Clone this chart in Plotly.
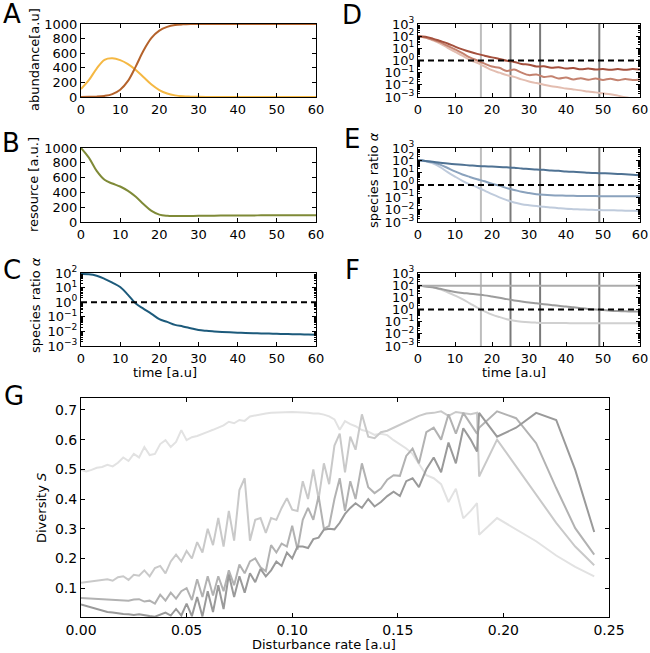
import plotly.graph_objects as go

W, H = 650, 653
FONT = "DejaVu Sans"

# ---- time courses (panels A-F) ----
t = [0, 2, 4, 6, 8, 10, 12, 14, 16, 18, 20, 22, 24, 26, 28, 30,
     32, 34, 36, 38, 40, 42, 44, 46, 48, 50, 52, 54, 56, 58, 60]

a_species1 = [110, 230, 390, 510, 530, 505, 450, 370, 270, 170, 95, 48, 22, 10, 5, 2,
              1, 1, 0, 0, 0, 0, 0, 0, 0, 0, 0, 0, 0, 0, 0]
a_species2 = [0, 2, 5, 15, 40, 100, 220, 420, 640, 810, 910, 960, 985, 995, 999, 1000,
              1000, 1000, 1000, 1000, 1000, 1000, 1000, 1000, 1000, 1000, 1000, 1000, 1000, 1000, 1000]

b_resource = [1000, 870, 690, 570, 520, 480, 420, 340, 240, 150, 100, 84, 80, 80, 82, 84,
              85, 86, 87, 88, 88, 89, 89, 90, 90, 90, 90, 90, 90, 90, 90]

c_ratio = [85, 82, 65, 40, 22, 11, 3.2, 0.8, 0.35, 0.16, 0.069, 0.045, 0.028, 0.022, 0.0166, 0.0126,
           0.011, 0.0100, 0.0092, 0.0086, 0.0082, 0.0078, 0.0075, 0.0073, 0.0071, 0.0068,
           0.0066, 0.0064, 0.0063, 0.0061, 0.0060]

d_dark = [100, 89, 63, 40, 25, 14, 8.3, 5.2, 3.5, 2.5, 1.8, 1.35, 0.95, 0.76, 0.52, 0.45,
          0.32, 0.33, 0.25, 0.28, 0.22, 0.24, 0.19, 0.22, 0.18, 0.20, 0.17, 0.20, 0.17, 0.20, 0.18]
d_mid = [100, 79, 52, 32, 16, 8.1, 4.0, 1.8, 1.0, 0.56, 0.32, 0.25, 0.14, 0.18, 0.1, 0.063,
         0.071, 0.045, 0.05, 0.033, 0.04, 0.028, 0.035, 0.026, 0.033, 0.025, 0.032, 0.024, 0.03, 0.025, 0.028]
d_light = [100, 76, 45, 25, 11, 5.2, 2.5, 1.1, 0.63, 0.32, 0.16, 0.1, 0.063, 0.045, 0.028, 0.019,
           0.014, 0.01, 0.0076, 0.0063, 0.005, 0.0042, 0.0035, 0.0028, 0.0024, 0.002, 0.0017,
           0.0013, 0.00095, 0.00076, 0.00063]

e_dark = [100, 89, 76, 63, 55, 48, 43, 39, 35, 33, 31, 29, 27, 25, 22, 20,
          18, 17, 15, 14, 12.6, 11.7, 11, 10, 9.3, 8.9, 8.5, 7.9, 7.4, 6.9, 6.3]
e_mid = [100, 89, 71, 45, 24, 12.6, 7.1, 4.5, 2.95, 2.0, 1.26, 0.89, 0.56, 0.4, 0.28, 0.22,
         0.18, 0.16, 0.148, 0.141, 0.135, 0.132, 0.129, 0.126, 0.126, 0.124, 0.123, 0.123, 0.122, 0.122, 0.122]
e_light = [100, 83, 56, 28, 11, 4.8, 2.2, 1.12, 0.66, 0.35, 0.18, 0.1, 0.06, 0.038, 0.028, 0.023,
           0.0195, 0.0174, 0.0151, 0.0132, 0.0117, 0.011, 0.0105, 0.01, 0.0095, 0.0091, 0.0089,
           0.0087, 0.0083, 0.0081, 0.0079]

f_flat = [89, 89, 89, 89, 89, 89, 89, 89, 89, 89, 89, 89, 89, 89, 89, 89,
          89, 89, 89, 89, 89, 89, 89, 89, 89, 89, 89, 89, 89, 89, 89]
f_mid = [89, 79, 66, 50, 37, 28, 23, 20, 17, 14.5, 11.7, 9.3, 7.1, 5.6, 4.5, 3.7,
         3.2, 2.75, 2.35, 2.0, 1.78, 1.51, 1.29, 1.12, 1.0, 0.89, 0.79, 0.74, 0.71, 0.69, 0.68]
f_light = [89, 83, 66, 45, 26, 14, 7.1, 3.2, 1.41, 0.71, 0.38, 0.24, 0.16, 0.12, 0.1, 0.089,
           0.083, 0.079, 0.078, 0.076, 0.076, 0.075, 0.075, 0.074, 0.074, 0.074, 0.074,
           0.074, 0.074, 0.074, 0.074]

disturb_times = [17, 25, 33, 49]
disturb_colors = ["#bdbdbd", "#7a7a7a", "#7a7a7a", "#7a7a7a"]
threshold = 1.0

# ---- diversity vs disturbance rate (panel G) ----
g_rate = [0.0, 0.0025, 0.005, 0.0075, 0.01, 0.0125, 0.015, 0.0175, 0.02, 0.0225,
          0.025, 0.0275, 0.03, 0.0325, 0.035, 0.0375, 0.04, 0.0425, 0.045, 0.0475,
          0.05, 0.0525, 0.055, 0.0575, 0.06, 0.0625, 0.065, 0.0675, 0.07, 0.0725,
          0.075, 0.0775, 0.08, 0.0825, 0.085, 0.0875, 0.09, 0.0925, 0.095, 0.0975,
          0.1, 0.1025, 0.105, 0.1075, 0.11, 0.1125, 0.115, 0.1175, 0.12, 0.1225,
          0.125, 0.1275, 0.13, 0.133, 0.136, 0.139, 0.142, 0.145, 0.148, 0.151,
          0.154, 0.157, 0.16, 0.1635, 0.167, 0.1705, 0.174, 0.1775, 0.181, 0.1845,
          0.1875, 0.1885, 0.197, 0.206, 0.2155, 0.225, 0.234, 0.243]

g_s1 = [0.498, 0.493, 0.498, 0.505, 0.508, 0.515, 0.510, 0.522, 0.540, 0.528,
        0.552, 0.540, 0.575, 0.548, 0.552, 0.585, 0.598, 0.575, 0.592, 0.632,
        0.598, 0.608, 0.612, 0.620, 0.626, 0.633, 0.640, 0.648, 0.660, 0.655,
        0.666, 0.663, 0.678, 0.682, 0.685, 0.688, 0.690, 0.691, 0.692, 0.692,
        0.693, 0.692, 0.692, 0.690, 0.688, 0.688, 0.684, 0.678, 0.668, 0.633,
        0.662, 0.652, 0.645, 0.632, 0.627, 0.616, 0.620, 0.615, 0.598, 0.585,
        0.570, 0.552, 0.520, 0.480, 0.470, 0.450, 0.390, 0.435, 0.335, 0.360,
        0.386, 0.280, 0.336, 0.298, 0.258, 0.210, 0.172, 0.140]
g_s2 = [0.118, 0.120, 0.122, 0.125, 0.128, 0.130, 0.125, 0.137, 0.140, 0.128,
        0.145, 0.142, 0.160, 0.140, 0.168, 0.175, 0.150, 0.190, 0.213, 0.190,
        0.225, 0.200, 0.255, 0.220, 0.300, 0.245, 0.336, 0.240, 0.360, 0.260,
        0.430, 0.470, 0.260, 0.330, 0.336, 0.286, 0.336, 0.330, 0.370, 0.403,
        0.364, 0.360, 0.460, 0.400, 0.500, 0.400, 0.520, 0.450, 0.580, 0.620,
        0.490, 0.610, 0.566, 0.685, 0.610, 0.605, 0.625, 0.630, 0.640, 0.650,
        0.662, 0.670, 0.680, 0.688, 0.690, 0.695, 0.680, 0.693, 0.690, 0.685,
        0.690, 0.476, 0.600, 0.510, 0.414, 0.320, 0.240, 0.177]
g_s3 = [0.067, 0.066, 0.065, 0.064, 0.062, 0.062, 0.061, 0.060, 0.060, 0.058,
        0.062, 0.063, 0.055, 0.058, 0.048, 0.078, 0.058, 0.085, 0.065, 0.090,
        0.100, 0.060, 0.130, 0.070, 0.140, 0.075, 0.140, 0.090, 0.160, 0.110,
        0.180, 0.150, 0.190, 0.200, 0.170, 0.157, 0.245, 0.220, 0.250, 0.240,
        0.310, 0.230, 0.330, 0.370, 0.330, 0.410, 0.300, 0.310, 0.400, 0.470,
        0.360, 0.460, 0.400, 0.520, 0.440, 0.420, 0.435, 0.465, 0.480, 0.478,
        0.545, 0.570, 0.520, 0.625, 0.640, 0.600, 0.685, 0.620, 0.690, 0.650,
        0.620, 0.640, 0.695, 0.672, 0.588, 0.437, 0.302, 0.213]
g_s4 = [0.045, 0.040, 0.035, 0.028, 0.024, 0.020, 0.018, 0.015, 0.013, 0.012,
        0.010, 0.012, 0.008, 0.006, 0.004, 0.010, 0.018, 0.008, 0.030, 0.008,
        0.048, 0.006, 0.070, 0.005, 0.090, 0.020, 0.110, 0.030, 0.146, 0.070,
        0.140, 0.085, 0.150, 0.120, 0.165, 0.140, 0.160, 0.190, 0.175, 0.220,
        0.200, 0.240, 0.240, 0.235, 0.265, 0.270, 0.297, 0.300, 0.298, 0.320,
        0.350, 0.370, 0.386, 0.370, 0.400, 0.375, 0.390, 0.410, 0.425, 0.410,
        0.460, 0.470, 0.440, 0.500, 0.540, 0.490, 0.590, 0.520, 0.638, 0.600,
        0.560, 0.690, 0.610, 0.640, 0.690, 0.666, 0.498, 0.289]
g_colors = ["#e2e2e2", "#c9c9c9", "#b2b2b2", "#9a9a9a"]


def px_x(p):
    return p / W


def px_y(p):
    return 1 - p / H


fig = go.Figure()


def line(x, y, color, ax, shape="spline"):
    fig.add_trace(go.Scatter(x=x, y=y, mode="lines", xaxis="x" + ax, yaxis="y" + ax,
                             line=dict(color=color, width=2, shape=shape),
                             hoverinfo="skip", showlegend=False))


line(t, a_species1, "#f5b843", "")
line(t, a_species2, "#b4622b", "")
line(t, b_resource, "#7f8a37", "2")
line(t, c_ratio, "#1c5a7b", "3")
line(t, d_light, "#e3bdb0", "4")
line(t, d_mid, "#c4826f", "4")
line(t, d_dark, "#a4503d", "4")
line(t, e_light, "#bfcbdc", "5")
line(t, e_mid, "#8aa2bd", "5")
line(t, e_dark, "#4f7293", "5")
line(t, f_light, "#d0d0d0", "6")
line(t, f_mid, "#9c9c9c", "6")
line(t, f_flat, "#ababab", "6")
for s, c in zip([g_s1, g_s2, g_s3, g_s4], g_colors):
    line(g_rate, s, c, "7", shape="linear")

axis_style = dict(showline=True, linecolor="black", linewidth=1, mirror="allticks",
                  ticks="inside", ticklen=4, tickcolor="black", showgrid=False,
                  zeroline=False, tickfont=dict(size=13, color="black", family=FONT))
g_axis_style = dict(axis_style, tickfont=dict(size=14, color="black", family=FONT))

log_vals = [1e-3, 1e-2, 1e-1, 1, 1e1, 1e2, 1e3]
log_text = ["10<sup>\u22123</sup>", "10<sup>\u22122</sup>", "10<sup>\u22121</sup>",
            "10<sup>0</sup>", "10<sup>1</sup>", "10<sup>2</sup>", "10<sup>3</sup>"]
minor_vals = [m * d for d in log_vals[:-1] for m in range(2, 10)]
log_axis = dict(type="log", tickmode="array", tickvals=log_vals, ticktext=log_text,
                minor=dict(ticks="inside", ticklen=2, tickcolor="black", tickvals=minor_vals))

left = [px_x(81), px_x(316)]
right = [px_x(418), px_x(640)]
row1 = [px_y(97), px_y(24)]
row2 = [px_y(222), px_y(148)]
row3 = [px_y(346), px_y(273)]
time_x = dict(range=[0, 60], tick0=0, dtick=10, **axis_style)

layout = dict(
    width=W, height=H, margin=dict(l=0, r=0, t=0, b=0, autoexpand=False),
    paper_bgcolor="white", plot_bgcolor="white", showlegend=False,
    font=dict(family=FONT, color="black"),
    xaxis=dict(domain=left, anchor="y", **time_x),
    yaxis=dict(domain=row1, anchor="x", range=[0, 1000], dtick=200, **axis_style),
    xaxis2=dict(domain=left, anchor="y2", **time_x),
    yaxis2=dict(domain=row2, anchor="x2", range=[0, 1000], dtick=200, **axis_style),
    xaxis3=dict(domain=left, anchor="y3", **time_x),
    yaxis3=dict(domain=row3, anchor="x3", range=[-3, 2], **log_axis, **axis_style),
    xaxis4=dict(domain=right, anchor="y4", **time_x),
    yaxis4=dict(domain=row1, anchor="x4", range=[-3, 3], **log_axis, **axis_style),
    xaxis5=dict(domain=right, anchor="y5", **time_x),
    yaxis5=dict(domain=row2, anchor="x5", range=[-3, 3], **log_axis, **axis_style),
    xaxis6=dict(domain=right, anchor="y6", **time_x),
    yaxis6=dict(domain=row3, anchor="x6", range=[-3, 3], **log_axis, **axis_style),
    xaxis7=dict(domain=[px_x(81), px_x(609)], anchor="y7", range=[0, 0.25], tick0=0,
                dtick=0.05, tickformat=".2f", **g_axis_style),
    yaxis7=dict(domain=[px_y(617), px_y(398)], anchor="x7", range=[0.003, 0.74],
                tickvals=[0.1, 0.2, 0.3, 0.4, 0.5, 0.6, 0.7], **g_axis_style),
)
fig.update_layout(**layout)

# disturbance markers and ratio threshold
for ax in ["4", "5", "6"]:
    for tv, col in zip(disturb_times, disturb_colors):
        fig.add_shape(type="line", xref="x" + ax, yref="y" + ax + " domain",
                      x0=tv, x1=tv, y0=0, y1=1, layer="below",
                      line=dict(color=col, width=2))
for ax in ["3", "4", "5", "6"]:
    fig.add_shape(type="line", xref="x" + ax + " domain", yref="y" + ax,
                  x0=0, x1=1, y0=threshold, y1=threshold, layer="above",
                  line=dict(color="black", width=2, dash="6px,4px"))


def label(text, x, y, size=13, angle=0):
    fig.add_annotation(text=text, x=px_x(x), y=px_y(y), xref="paper", yref="paper",
                       showarrow=False, textangle=angle, xanchor="center", yanchor="middle",
                       font=dict(size=size, family=FONT, color="black"))


label("abundance[a.u]", 34, 60, angle=-90)
label("resource [a.u.]", 34, 185, angle=-90)
label("species ratio <i>\u03b1</i>", 35, 305, angle=-90)
label("species ratio <i>\u03b1</i>", 373, 180, angle=-90)
label("time [a.u]", 165, 372)
label("time [a.u]", 514, 372)
label("Diversity <i>S</i>", 41, 508, angle=-90)
label("Disturbance rate [a.u]", 324, 644)

for letter, x, y in [("A", 12, 14), ("B", 11, 143), ("C", 12, 270), ("D", 352, 15),
                     ("E", 352, 139), ("F", 352, 270), ("G", 14, 396)]:
    label(letter, x, y, size=26)

# drop the default page margin so the figure sits at the window's corner
fig.write_html("out.html", config={"displayModeBar": False},
               post_script="document.body.style.margin='0';")
